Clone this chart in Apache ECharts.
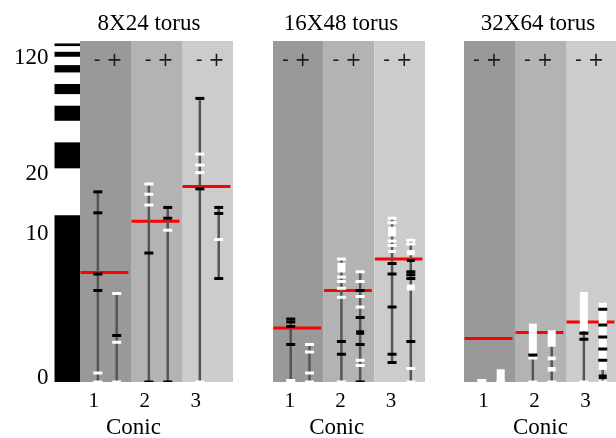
<!DOCTYPE html>
<html><head><meta charset="utf-8">
<script src="https://cdn.jsdelivr.net/npm/echarts@6/dist/echarts.min.js"></script>
<style>html,body{margin:0;padding:0;background:#fff}#c{width:616px;height:438px}</style>
</head><body><div id="c"></div>
<script>
// ---------- data ----------
const panelTitles = ['8X24 torus', '16X48 torus', '32X64 torus'];
const conicLabels = ['1', '2', '3'];
const signLabel = '- +';
const xName = 'Conic';
const yTickValues = [0, 10, 20, 120];
const yMax = 133;
// non-linear axis scale: value -> axis units
const scaleValues = [0, 10, 20, 120];
const scaleUnits = [0, 150, 210, 326];

// left scale stripes (black segments), value ranges
const stripes = [[0,12.8],[23.2,45.6],[64.2,77.2],[87.2,95.9],[105.9,112.2],[119.4,123.7],[128.6,130.9]];

// columns per panel: [conic1 -, conic1 +, conic2 -, conic2 +, conic3 -, conic3 +]
const mean8 = [7.3, 11.8, 17.6];
const whisker8 = [[0,16.7],[0,5.9],[0,18.0],[0,14.1],[0,83.5],[6.9,14.1]];
const blackTicks8 = [[16.7,13.2,7.2,6.1],[3.1],[8.6,0],[14.1,12.3,0],[83.5,17.2],[14.1,13.1,6.9]];
const whiteTicks8 = [[0.6,0],[5.9,2.65,0],[18.0,16.3,14.5],[10.3],[35.5,26.0,19.9,0],[9.5]];
const whiteBlocks8 = [[],[],[],[],[],[]];
const blackBlocks8 = [[],[],[],[],[],[]];

const mean16 = [3.6, 6.1, 8.2];
const whisker16 = [[0,4.2],[0,2.5],[0,8.2],[0,7.35],[1.3,12.3],[0,9.45]];
const blackTicks16 = [[4.2,4.0,3.7,2.5],[],[2.7,1.85],[6.1,4.3,2.5,0],[7.9,7.2,5.0,1.85,1.3],[7.35,7.15,6.9,2.7]];
const whiteTicks16 = [[0.1],[2.5,2.0,0.6,0],[8.2,7.0,6.7,6.25,5.65,0],[7.35,6.7,5.7,5.0,1.45,1.1],[12.3,11.55,9.4,9.1],[9.45,9.2,0.9,0]];
const whiteBlocks16 = [[],[],[[7.3,7.95]],[],[[9.7,10.9],[8.6,8.8]],[[8.45,8.8],[6.1,6.5]]];
const blackBlocks16 = [[],[],[],[[3.15,3.45]],[],[[8.0,8.2]]];

const mean32 = [2.9, 3.3, 4.0];
const whisker32 = [[0,0],[0,0],[0,3.9],[0,3.45],[0,6.0],[0,5.3]];
const blackTicks32 = [[],[],[1.8],[],[3.25,2.85],[4.85,3.8,3.0,2.2,1.45]];
const whiteTicks32 = [[0.1],[0],[1.6,0],[0],[0],[0]];
const whiteBlocks32 = [[[0,0.15]],[[0,0.85]],[[1.85,3.9]],[[2.35,3.45],[1.45,1.7],[0.7,1.0]],[[3.4,6.0]],[[0.8,5.3]]];
const blackBlocks32 = [[],[],[],[],[],[[0.2,0.5]]];

// ---------- layout / style ----------
const means = [mean8, mean16, mean32];
const whiskers = [whisker8, whisker16, whisker32];
const blackTicks = [blackTicks8, blackTicks16, blackTicks32];
const whiteTicks = [whiteTicks8, whiteTicks16, whiteTicks32];
const whiteBlocks = [whiteBlocks8, whiteBlocks16, whiteBlocks32];
const blackBlocks = [blackBlocks8, blackBlocks16, blackBlocks32];

const grids = [
  {left: 54.5, top: 41, width: 178.5, height: 341, outerBoundsMode: 'none', containLabel: false},
  {left: 273, top: 41, width: 152, height: 341, outerBoundsMode: 'none', containLabel: false},
  {left: 464, top: 41, width: 153, height: 341, outerBoundsMode: 'none', containLabel: false}
];
const xMins = [-0.5, 0, 0];
const labelOffsets = [0.27, 0.33, 0.38];
const signOffsets = [0.55, 0.46, 0.46];
const titleX = [149, 341, 538];
const namePad = [20.5, 24.6, 0];
const bandColors = ['#999999', '#b3b3b3', '#cccccc'];
const colOffsets = [0.35, 0.72];
const SERIF = '"Liberation Serif", "Times New Roman", serif';

function yScale(v) {
  const n = scaleValues.length;
  for (let i = 1; i < n; i++) {
    if (v <= scaleValues[i] || i === n - 1) {
      const t = (v - scaleValues[i-1]) / (scaleValues[i] - scaleValues[i-1]);
      return scaleUnits[i-1] + t * (scaleUnits[i] - scaleUnits[i-1]);
    }
  }
}
const yTop = yScale(yMax);

const chart = echarts.init(document.getElementById('c'), null, {renderer: 'canvas'});

const xAxes = [], yAxes = [], series = [];
panelTitles.forEach((t, p) => {
  xAxes.push({
    type: 'value', gridIndex: p, min: xMins[p], max: 3,
    axisLine: {show: false}, axisTick: {show: false}, splitLine: {show: false},
    axisLabel: {
      customValues: conicLabels.map((_, b) => b + labelOffsets[p]),
      formatter: v => conicLabels[Math.floor(v)],
      fontFamily: SERIF, fontSize: 21, color: '#000', margin: 9
    },
    name: xName, nameLocation: 'middle', nameGap: 31,
    nameTextStyle: {fontFamily: SERIF, fontSize: 23, color: '#000', padding: [0, namePad[p], 0, 0]}
  });
  yAxes.push({
    type: 'value', gridIndex: p, min: 0, max: yTop,
    axisLine: {show: false}, axisTick: {show: false}, splitLine: {show: false},
    axisLabel: p === 0 ? {
      show: true,
      customValues: yTickValues.map(yScale),
      formatter: v => {
        const i = yTickValues.findIndex(tv => Math.abs(yScale(tv) - v) < 0.5);
        return (i === 0 ? '{z|' : '{n|') + yTickValues[i] + '}';
      },
      rich: {
        z: {fontFamily: SERIF, fontSize: 23, color: '#000', padding: [0, 0, 8, 0]},
        n: {fontFamily: SERIF, fontSize: 23, color: '#000', padding: [4, 0, 0, 0]}
      },
      fontFamily: SERIF, fontSize: 23, color: '#000', margin: 6
    } : {show: false}
  });

  // background bands
  series.push({
    type: 'custom', xAxisIndex: p, yAxisIndex: p, z: 1, silent: true, clip: true,
    data: conicLabels.map((_, b) => [b, 0]),
    renderItem: (params, api) => {
      const b = api.value(0);
      const a = api.coord([b, 0]), c = api.coord([b + 1, yTop]);
      return {type: 'rect', shape: {x: a[0], y: c[1], width: c[0] - a[0], height: a[1] - c[1]}, style: {fill: bandColors[b]}};
    }
  });

  if (p === 0) {
    series.push({
      type: 'custom', xAxisIndex: p, yAxisIndex: p, z: 1, silent: true, clip: true,
      data: stripes.map(s => [yScale(s[0]), yScale(s[1])]),
      renderItem: (params, api) => {
        const a = api.coord([-0.5, api.value(0)]), c = api.coord([0, api.value(1)]);
        return {type: 'rect', shape: {x: a[0], y: c[1], width: c[0] - a[0], height: a[1] - c[1]}, style: {fill: '#000'}};
      }
    });
  }

  // mean (red) lines
  series.push({
    type: 'custom', xAxisIndex: p, yAxisIndex: p, z: 2, silent: true, clip: true,
    data: means[p].map((m, b) => [b, yScale(m)]),
    renderItem: (params, api) => {
      const b = api.value(0);
      const a = api.coord([b + 0.01, api.value(1)]), c = api.coord([b + 0.95, api.value(1)]);
      return {type: 'rect', shape: {x: a[0], y: a[1] - 1.5, width: c[0] - a[0], height: 3}, style: {fill: '#ff0000'}};
    }
  });

  const colX = c => Math.floor(c / 2) + colOffsets[c % 2];

  // whiskers
  series.push({
    type: 'custom', xAxisIndex: p, yAxisIndex: p, z: 3, silent: true, clip: true,
    data: whiskers[p].map((w, c) => [colX(c), yScale(w[0]), yScale(w[1])]),
    renderItem: (params, api) => {
      const a = api.coord([api.value(0), api.value(1)]), c = api.coord([api.value(0), api.value(2)]);
      return {type: 'rect', shape: {x: a[0] - 1.25, y: c[1], width: 2.5, height: a[1] - c[1]}, style: {fill: '#555555'}};
    }
  });

  // blocks
  const blockData = [];
  whiteBlocks[p].forEach((list, c) => list.forEach(bk => blockData.push([colX(c), yScale(bk[0]), yScale(bk[1]), 1])));
  blackBlocks[p].forEach((list, c) => list.forEach(bk => blockData.push([colX(c), yScale(bk[0]), yScale(bk[1]), 0])));
  series.push({
    type: 'custom', xAxisIndex: p, yAxisIndex: p, z: 4, silent: true, clip: true,
    data: blockData,
    renderItem: (params, api) => {
      const a = api.coord([api.value(0), api.value(1)]), c = api.coord([api.value(0), api.value(2)]);
      const h = Math.max(2, a[1] - c[1]);
      return {type: 'rect', shape: {x: a[0] - 4, y: a[1] - h, width: 8, height: h}, style: {fill: api.value(3) ? '#ffffff' : '#000000'}};
    }
  });

  // ticks
  const tickData = [];
  whiteTicks[p].forEach((list, c) => list.forEach(v => tickData.push([colX(c), yScale(v), 1])));
  blackTicks[p].forEach((list, c) => list.forEach(v => tickData.push([colX(c), yScale(v), 0])));
  series.push({
    type: 'custom', xAxisIndex: p, yAxisIndex: p, z: 5, silent: true, clip: true,
    data: tickData,
    renderItem: (params, api) => {
      const a = api.coord([api.value(0), api.value(1)]);
      return {type: 'rect', shape: {x: a[0] - 4.5, y: a[1] - 1.5, width: 9, height: 3}, style: {fill: api.value(2) ? '#ffffff' : '#000000'}};
    }
  });

  // "- +" labels
  series.push({
    type: 'custom', xAxisIndex: p, yAxisIndex: p, z: 6, silent: true,
    data: conicLabels.map((_, b) => [b, yTop]),
    renderItem: (params, api) => {
      const a = api.coord([api.value(0) + signOffsets[p], api.value(1)]);
      return {type: 'text', x: a[0], y: a[1] + 20.5,
        style: {text: signLabel, fontFamily: '"DejaVu Sans", sans-serif', fontSize: 19, fill: '#1a1a1a', align: 'center', verticalAlign: 'middle'}};
    }
  });
});

chart.setOption({
  animation: false,
  backgroundColor: '#ffffff',
  grid: grids,
  xAxis: xAxes,
  yAxis: yAxes,
  series: series,
  graphic: panelTitles.map((t, p) => ({
    type: 'text', x: titleX[p], y: 23.5, silent: true,
    style: {text: t, fontFamily: SERIF, fontSize: 23, fill: '#000', align: 'center', verticalAlign: 'middle'}
  }))
});
</script>
</body></html>
